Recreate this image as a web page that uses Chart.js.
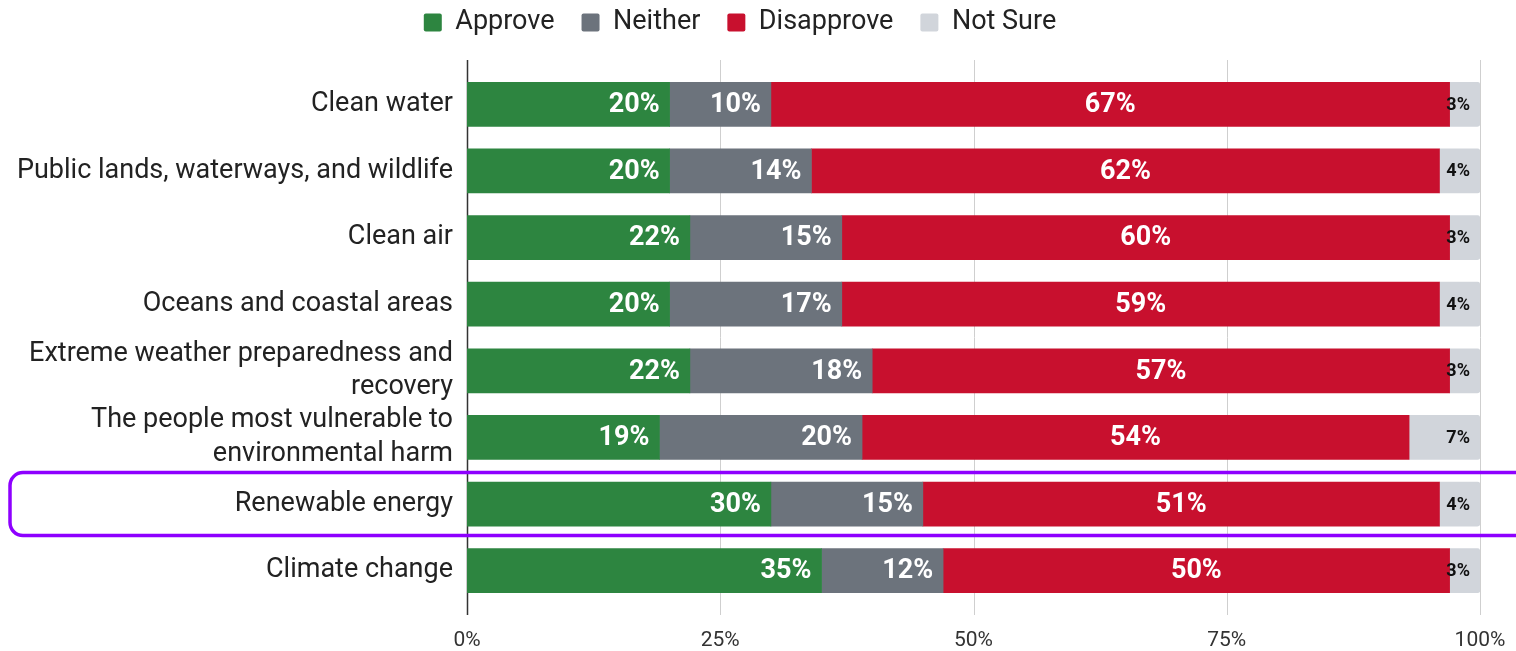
<!DOCTYPE html>
<html>
<head>
<meta charset="utf-8">
<script src="https://cdn.jsdelivr.net/npm/chart.js@4.4.1/dist/chart.umd.min.js"></script>
<style>
  html, body { margin: 0; padding: 0; background: #fff; overflow: hidden; }
  #wrap { width: 1516px; height: 651px; position: relative; }
</style>
</head>
<body>
<div id="wrap"><canvas id="chart"></canvas></div>
<script>
// categories, top to bottom
const categories = [
    'Clean water',
    'Public lands, waterways, and wildlife',
    'Clean air',
    'Oceans and coastal areas',
    ['Extreme weather preparedness and', 'recovery'],
    ['The people most vulnerable to', 'environmental harm'],
    'Renewable energy',
    'Climate change'
];

const approve    = [20, 20, 22, 20, 22, 19, 30, 35];
const neither    = [10, 14, 15, 17, 18, 20, 15, 12];
const disapprove = [67, 62, 60, 59, 57, 54, 51, 50];
const notSure    = [3, 4, 3, 4, 3, 7, 4, 3];

const xTicks = [0, 25, 50, 75, 100];
const highlightRow = 6; // Renewable energy

const GREEN = '#2d8540';
const GRAY = '#6c737c';
const RED = '#c8102e';
const LIGHT = '#d1d5db';
const PURPLE = '#8e00ff';

// vertical grid lines, a bit taller than the plot area
const gridPlugin = {
    id: 'grid',
    beforeDatasetsDraw(chart) {
        const {ctx, chartArea, scales: {x}} = chart;
        ctx.save();
        for (const t of xTicks) {
            const px = Math.round(x.getPixelForValue(t)) + 0.5;
            ctx.strokeStyle = t === 0 ? '#333' : '#cfcfcf';
            ctx.lineWidth = t === 0 ? 1.5 : 1;
            ctx.beginPath();
            ctx.moveTo(px, chartArea.top - 11);
            ctx.lineTo(px, chartArea.bottom + 11);
            ctx.stroke();
        }
        ctx.restore();
    }
};

// value labels inside the segments
const labelPlugin = {
    id: 'valueLabels',
    afterDatasetsDraw(chart) {
        const {ctx} = chart;
        ctx.save();
        ctx.textBaseline = 'middle';
        chart.data.datasets.forEach((ds, di) => {
            const meta = chart.getDatasetMeta(di);
            meta.data.forEach((bar, i) => {
                const text = ds.data[i] + '%';
                const {x, y, base} = bar.getProps(['x', 'y', 'base'], true);
                if (di === 3) {
                    ctx.font = 'bold 18px Roboto';
                    ctx.fillStyle = '#111';
                    ctx.textAlign = 'right';
                    ctx.fillText(text, x - 10, y + 1);
                } else if (di === 2) {
                    ctx.font = 'bold 27px Roboto';
                    ctx.fillStyle = '#fff';
                    ctx.textAlign = 'center';
                    ctx.fillText(text, (x + base) / 2, y + 1);
                } else {
                    ctx.font = 'bold 27px Roboto';
                    ctx.fillStyle = '#fff';
                    ctx.textAlign = 'right';
                    ctx.fillText(text, x - 10, y + 1);
                }
            });
        });
        ctx.restore();
    }
};

// purple rounded box around one row
const highlightPlugin = {
    id: 'highlight',
    afterDraw(chart) {
        const {ctx, scales: {y}} = chart;
        const cy = y.getPixelForValue(highlightRow);
        ctx.save();
        ctx.strokeStyle = PURPLE;
        ctx.lineWidth = 3.5;
        ctx.beginPath();
        ctx.roundRect(10, cy - 31.5, 1530, 63, 13);
        ctx.stroke();
        ctx.restore();
    }
};

const data = {
    labels: categories,
    datasets: [
        {label: 'Approve', data: approve, backgroundColor: GREEN},
        {label: 'Neither', data: neither, backgroundColor: GRAY},
        {label: 'Disapprove', data: disapprove, backgroundColor: RED},
        {label: 'Not Sure', data: notSure, backgroundColor: LIGHT, borderRadius: 3}
    ]
};
data.datasets.forEach(ds => {
    ds.borderWidth = 0;
    ds.barThickness = 44;
    if (ds.borderRadius === undefined) ds.borderRadius = 0;
});

new Chart(document.getElementById('chart'), {
    type: 'bar',
    data: data,
    options: {
        indexAxis: 'y',
        responsive: true,
        maintainAspectRatio: false,
        animation: false,
        layout: {padding: {top: -18, right: 36, left: 0, bottom: 0}},
        plugins: {
            legend: {
                position: 'top',
                labels: {
                    font: {family: 'Roboto', size: 27},
                    color: '#222',
                    boxWidth: 18,
                    boxHeight: 18,
                    padding: 27,
                    useBorderRadius: true,
                    borderRadius: 2
                }
            },
            tooltip: {enabled: false}
        },
        scales: {
            x: {
                stacked: true,
                min: 0,
                max: 100,
                afterBuildTicks(scale) {
                    scale.ticks = xTicks.map(v => ({value: v}));
                },
                ticks: {
                    callback: v => v + '%',
                    font: {family: 'Roboto', size: 21},
                    color: '#333',
                    padding: 16,
                    maxRotation: 0
                },
                grid: {display: false},
                border: {display: false},
                afterFit(scale) {
                    scale.height = 47;
                    scale.paddingLeft = 0;
                    scale.paddingRight = 0;
                }
            },
            // empty spacer between the legend and the bars
            top: {
                type: 'linear',
                position: 'top',
                ticks: {display: false},
                grid: {display: false},
                border: {display: false},
                afterFit(scale) { scale.height = 25; }
            },
            y: {
                stacked: true,
                ticks: {
                    font: {family: 'Roboto', size: 27, lineHeight: 1.24},
                    color: '#222',
                    padding: 6,
                    autoSkip: false
                },
                grid: {display: false},
                border: {display: false},
                afterFit(scale) { scale.width = 467; }
            }
        }
    },
    plugins: [gridPlugin, labelPlugin, highlightPlugin]
});
</script>
</body>
</html>
